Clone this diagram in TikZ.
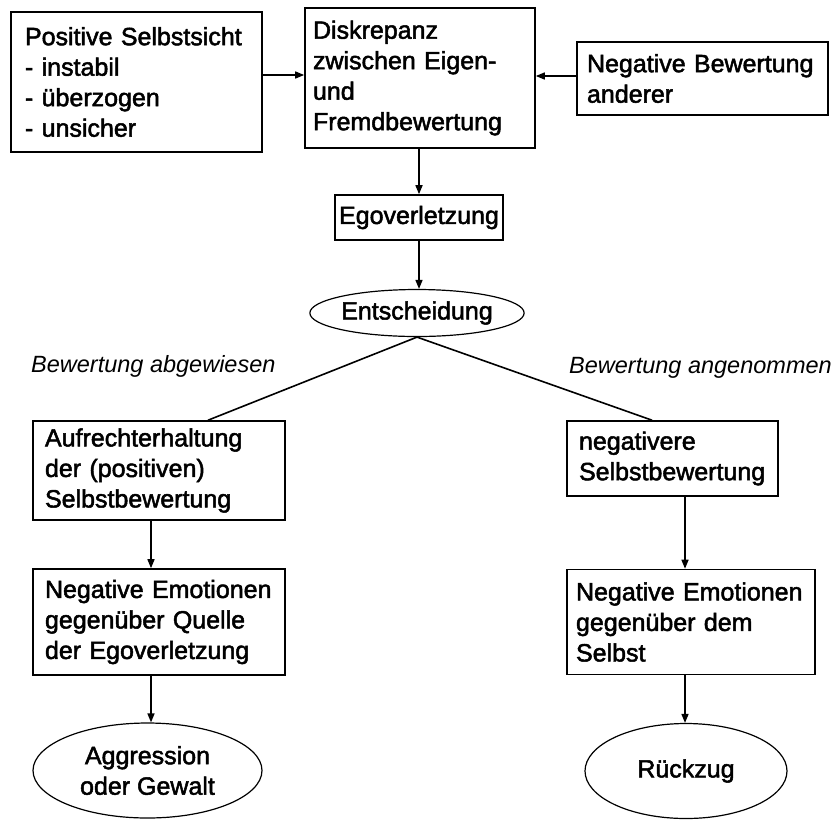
\documentclass[tikz,border=0pt]{standalone}
\usepackage{fontspec}
\setmainfont{Liberation Sans}
\newfontface\dfont{Liberation Sans}[FakeBold=2]
\usetikzlibrary{shapes.geometric,arrows.meta}
\hyphenpenalty=10000

\begin{document}
\begin{tikzpicture}[x=1pt,y=-1pt,
  box/.style={draw, line width=1.6pt, rectangle, align=left, inner xsep=12pt, inner ysep=0pt,
    font=\dfont\fontsize{25}{30.5}\selectfont},
  oval/.style={draw, ellipse, line width=1.2pt, align=center, inner sep=0pt,
    font=\dfont\fontsize{25}{30.5}\selectfont},
  arr/.style={-{Triangle[length=9pt,width=7pt]}, line width=1.5pt},
  link/.style={line width=1.6pt},
  lbl/.style={inner sep=0pt, font=\itshape\fontsize{23.5}{28}\selectfont}]

\useasboundingbox (0,0) rectangle (835,820);

% top row
\node[box, inner xsep=14pt, minimum width=251pt, minimum height=140pt, text width=223pt]
  (sicht) at (136.5,82) {Positive Selbstsicht\\- instabil\\- überzogen\\- unsicher};
\node[box, inner xsep=8pt, minimum width=230pt, minimum height=140pt, text width=214pt]
  (disk) at (420,78) {Diskrepanz\\zwischen Eigen-\\und\\Fremdbewertung};
\node[box, inner xsep=10pt, minimum width=251pt, minimum height=73pt, text width=231pt]
  (fremd) at (702.5,78.5) {Negative Bewertung\\anderer};

% centre column
\node[box, inner xsep=4pt, minimum width=168pt, minimum height=45pt, align=center]
  (ego) at (419,217.5) {Egoverletzung};
\node[oval, minimum width=165pt, minimum height=47pt]
  (ent) at (417,313) {Entscheidung};

% branch labels
\node[lbl, anchor=west] (abg) at (31,366) {Bewertung abgewiesen};
\node[lbl, anchor=west] (ang) at (569,368) {Bewertung angenommen};

% left branch
\node[box, minimum width=252pt, minimum height=99pt, text width=228pt]
  (auf) at (159,470.5) {Aufrechterhaltung\\der (positiven)\\Selbstbewertung};
\node[box, minimum width=252pt, minimum height=106pt, text width=228pt]
  (emoL) at (159,622) {Negative Emotionen\\gegenüber Quelle\\der Egoverletzung};
\node[oval, minimum width=229pt, minimum height=95pt]
  (aggr) at (147.5,770.5) {Aggression\\oder Gewalt};

% right branch
\node[box, minimum width=211pt, minimum height=75pt, text width=187pt]
  (negb) at (672.5,458.5) {negativere\\Selbstbewertung};
\node[box, inner xsep=9pt, minimum width=248pt, minimum height=105pt, text width=230pt]
  (emoR) at (691,622) {Negative Emotionen\\gegenüber dem\\Selbst};
\node[oval, minimum width=202pt, minimum height=95pt]
  (rueck) at (686,771) {Rückzug};

% connectors
\draw[arr] (sicht.east |- 0,75) -- (disk.west |- 0,75);
\draw[arr] (fremd.west |- 0,76) -- (disk.east |- 0,76);
\draw[arr] (disk.south -| ego.north) -- (ego.north);
\draw[arr] (ego.south) -- (ego.south |- ent.north);
\draw[link] (ent.south) -- (auf.north -| 208,0);
\draw[link] (ent.south) -- (negb.north -| 652,0);
\draw[arr] (auf.south -| 151,0) -- (emoL.north -| 151,0);
\draw[arr] (emoL.south -| 151,0) -- (aggr.north -| 151,0);
\draw[arr] (negb.south -| 685,0) -- (emoR.north -| 685,0);
\draw[arr] (emoR.south -| 685,0) -- (rueck.north -| 685,0);
\end{tikzpicture}
\end{document}
